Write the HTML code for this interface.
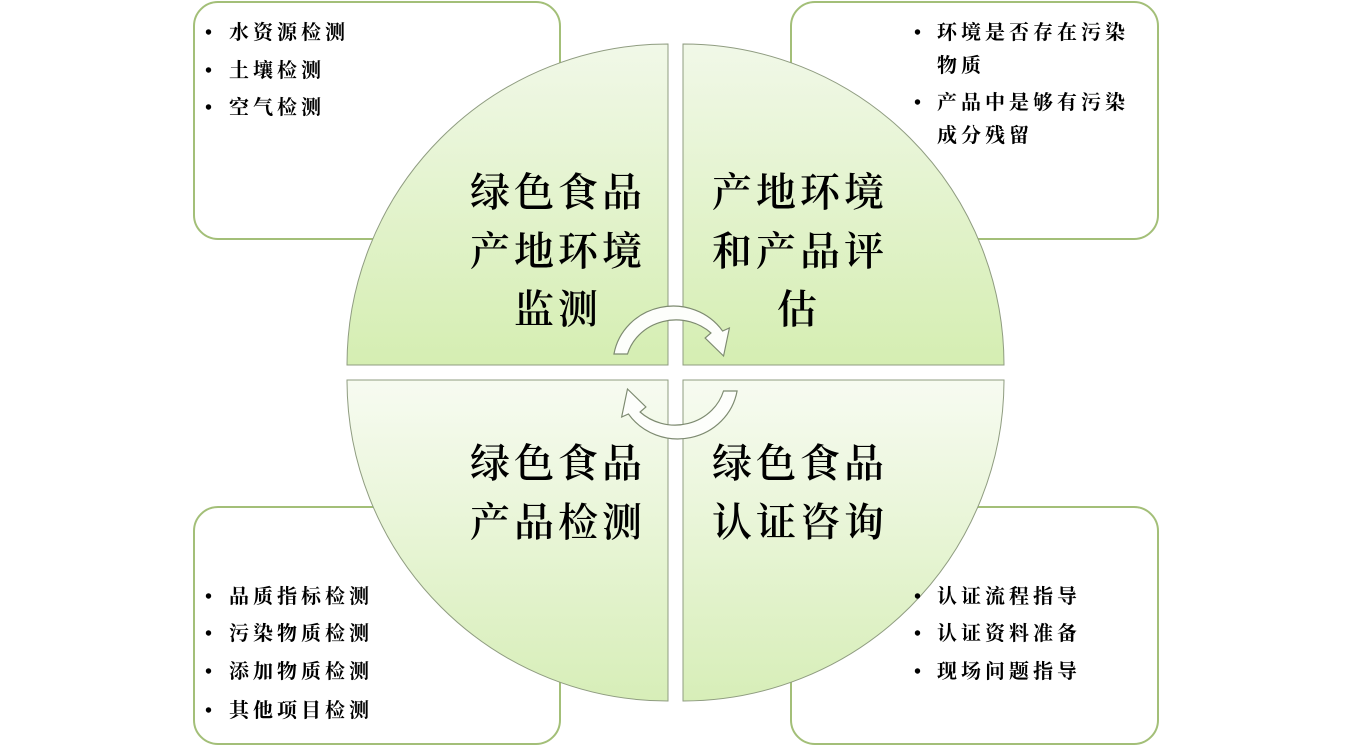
<!DOCTYPE html>
<html><head><meta charset="utf-8"><style>
body{margin:0;width:1350px;height:748px;background:#fff;overflow:hidden}
svg{display:block}
text{font-family:"Liberation Serif","Noto Serif CJK SC",serif;fill:#000}
.b{font-size:20px;font-weight:bold;letter-spacing:4px}
.t{font-size:40px;font-weight:600;letter-spacing:4px}
</style></head><body>
<svg width="1350" height="748" viewBox="0 0 1350 748">
<defs>
<linearGradient id="gt" x1="0" y1="0" x2="0" y2="1"><stop offset="0" stop-color="#f1f8e8"/><stop offset="1" stop-color="#d5eeb2"/></linearGradient>
<linearGradient id="gb" x1="0" y1="0" x2="0" y2="1"><stop offset="0" stop-color="#f7fbf1"/><stop offset="1" stop-color="#d7eeb8"/></linearGradient>
</defs>
<g fill="#fff" stroke="#a3bf78" stroke-width="2">
<rect x="194" y="2" width="366" height="237" rx="24"/>
<rect x="791" y="2" width="367" height="237" rx="24"/>
<rect x="194" y="507" width="366" height="237" rx="24"/>
<rect x="791" y="507" width="367" height="237" rx="24"/>
</g>
<g stroke="#8f9c80" stroke-width="1">
<path d="M668,365 L347,365 A321,321 0 0 1 668,44 Z" fill="url(#gt)"/>
<path d="M683,365 L683,44 A321,321 0 0 1 1004,365 Z" fill="url(#gt)"/>
<path d="M668,380 L668,701 A321,321 0 0 1 347,380 Z" fill="url(#gb)"/>
<path d="M683,380 L1004,380 A321,321 0 0 1 683,701 Z" fill="url(#gb)"/>
</g>
<g class="b">
<text x="205" y="39">•</text><text x="229" y="39">水资源检测</text>
<text x="205" y="77">•</text><text x="229" y="77">土壤检测</text>
<text x="205" y="114">•</text><text x="229" y="114">空气检测</text>
<text x="914" y="39">•</text><text x="937" y="39">环境是否存在污染</text>
<text x="937" y="72">物质</text>
<text x="914" y="109">•</text><text x="937" y="109">产品中是够有污染</text>
<text x="937" y="142">成分残留</text>
<text x="205" y="603">•</text><text x="229" y="603">品质指标检测</text>
<text x="205" y="640">•</text><text x="229" y="640">污染物质检测</text>
<text x="205" y="678">•</text><text x="229" y="678">添加物质检测</text>
<text x="205" y="717">•</text><text x="229" y="717">其他项目检测</text>
<text x="914" y="603">•</text><text x="937" y="603">认证流程指导</text>
<text x="914" y="640">•</text><text x="937" y="640">认证资料准备</text>
<text x="914" y="678">•</text><text x="937" y="678">现场问题指导</text>
</g>
<g class="t" text-anchor="middle">
<text x="558" y="206">绿色食品</text><text x="558" y="265">产地环境</text><text x="558" y="323">监测</text>
<text x="800" y="206">产地环境</text><text x="800" y="265">和产品评</text><text x="799" y="323">估</text>
<text x="558" y="477">绿色食品</text><text x="558" y="536">产品检测</text>
<text x="800" y="477">绿色食品</text><text x="800" y="536">认证咨询</text>
</g>
<g fill="#fdfefb" stroke="#7d8a70" stroke-width="1.2">
<path d="M625,354 A52,47 0 0 1 711,333 L705,338 L724,356 L730,328 L723,331 A62,58 0 0 0 611,354 Z" transform="translate(1,0) scale(0.97,1)" transform-origin="676 350"/>
<path d="M726,391 A52,47 0 0 1 640,412 L646,407 L627,389 L621,417 L628,414 A62,58 0 0 0 740,391 Z" transform="translate(-1,0) scale(0.97,1)" transform-origin="676 390"/>
</g>
</svg>
</body></html>
